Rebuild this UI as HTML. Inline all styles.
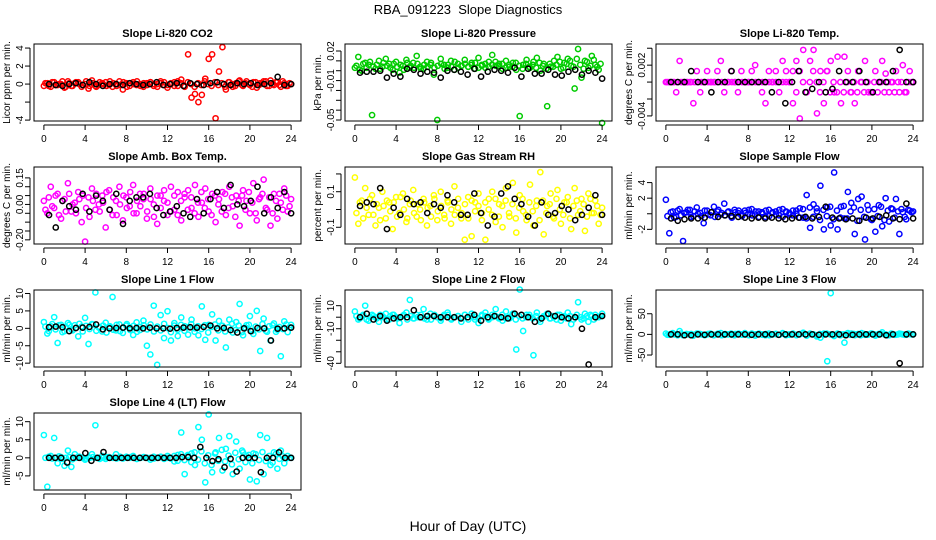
<!DOCTYPE html>
<html><head><meta charset="utf-8"><style>
html,body{margin:0;padding:0;background:#fff}
svg{display:block;font-family:"Liberation Sans",sans-serif}
</style></head><body>
<svg id="chart" width="936" height="540" viewBox="0 0 936 540">
<text x="468" y="14" text-anchor="middle" font-size="13" style="white-space:pre">RBA_091223  Slope Diagnostics</text>
<text x="468" y="531" text-anchor="middle" font-size="14">Hour of Day (UTC)</text>
</svg>
<script>
const hourTicks=[0,4,8,12,16,20,24];
const co2Color=[-0.2,0.1,-0.3,0.2,-0.1,0.0,-0.4,0.3,-0.2,0.1,0.2,-0.3,0.0,-0.5,0.4,-0.2,-0.1,0.1,0.2,-0.1,-0.3,0.0,0.3,-0.6,0.1,-0.2,0.2,-0.1,0.0,-0.3,0.1,0.2,-0.2,0.0,0.3,-0.1,-0.4,0.1,0.2,-0.2,0.5,-0.3,3.3,-1.5,-1.1,-2.0,-1.2,0.6,2.8,3.3,-3.8,1.4,4.1,-0.6,0.2,-0.3,0.1,0.4,-0.2,0.3,-0.1,0.2,-0.4,0.1,0.3,-0.2,0.4,-0.1,0.2,-0.3,0.1,-0.2,0.0];
const co2ColorB=[0.1,-0.2,0.2,-0.1,0.0,0.3,-0.3,0.1,-0.2,0.2,0.0,-0.1,0.3,-0.2,0.1,-0.3,0.2,0.0,-0.2,0.3,0.1,-0.2,-0.1,0.2,-0.3,0.1,0.0,0.3,-0.2,0.1,-0.1,0.2,0.0,-0.3,0.1,0.2,-0.1,0.0,-0.2,0.3,0.1,-0.2,0.2,0.0,-0.3,0.1,-0.1,0.3,0.0,-0.2,0.2,-0.1,0.1,-0.3,0.2,0.0,-0.2,0.3,-0.1,0.1,0.0,-0.3,0.2,-0.1,0.1,0.3,-0.2,0.0,0.2,-0.1,0.3,-0.2,0.1];
const co2Black=[0.0,-0.1,-0.2,0.0,0.1,-0.1,0.2,0.0,-0.2,0.0,0.0,-0.1,0.1,0.0,-0.1,0.0,0.2,-0.1,0.0,0.1,-0.2,0.1,0.0,-0.1,0.1,0.2,0.0,-0.1,0.1,0.0,0.1,-0.1,0.0,0.1,0.8,-0.1,0.0];
const presColor=[0.003,0.014,0.000,0.008,0.006,-0.045,0.002,0.010,0.004,0.012,0.007,0.001,0.009,-0.002,0.005,0.011,0.003,0.008,0.015,0.004,0.002,0.009,0.006,-0.004,-0.050,0.012,0.006,0.003,0.010,0.001,0.007,0.005,0.011,0.004,0.008,0.002,0.013,0.006,0.003,0.009,0.016,0.005,0.007,0.002,0.010,0.004,0.008,0.001,-0.046,0.006,0.011,0.003,0.009,0.013,0.000,0.007,-0.036,0.004,0.010,0.014,0.002,0.008,0.012,0.005,-0.018,0.022,-0.007,0.010,0.003,0.015,0.006,0.001,-0.053];
const presColorB=[0.005,0.001,0.007,0.003,0.009,0.004,0.006,0.002,0.008,0.005,0.003,0.007,0.004,0.006,0.001,0.008,0.005,0.003,0.007,0.002,0.006,0.004,0.008,0.003,0.005,0.007,0.002,0.006,0.004,0.009,0.003,0.005,0.007,0.004,0.006,0.008,0.003,0.005,0.007,0.004,0.006,0.009,0.005,0.007,0.003,0.006,0.004,0.008,0.005,0.002,0.007,0.004,0.006,0.003,0.008,0.005,0.002,0.007,0.004,0.006,0.009,0.003,0.007,0.010,0.004,0.012,0.006,0.002,0.009,0.005,0.011,0.004,0.007];
const presBlack=[-0.002,-0.001,-0.001,0.000,-0.007,-0.003,-0.006,0.002,0.001,-0.003,-0.001,-0.002,-0.007,0.000,0.001,-0.001,-0.004,0.002,-0.006,-0.001,0.001,0.000,-0.002,0.003,-0.006,0.002,-0.003,-0.003,0.001,-0.004,-0.005,-0.001,0.001,-0.004,0.000,-0.002,-0.008];
const tempColor=[0,0,0,-.0012,.0025,0,0,0,-.0025,.0013,-.0012,0,.0013,0,0,.0013,.0025,-.0012,0,.0013,0,-.0012,.0013,0,0,.0013,.0020,0,-.0012,-.0025,.0013,0,.0013,-.0012,.0025,.0013,0,-.0025,.0025,-.0043,.0038,-.0012,.0025,.0038,-.0037,.0013,-.0025,.0013,.0025,-.0012,.0030,-.0025,.0030,.0013,-.0012,-.0025,.0013,0,.0025,-.0012,-.0012,.0013,0,.0025,.0010,-.0012,0,.0013,-.0012,.0020,-.0012,.0013,0];
const tempColorB=[0,0,0,0,0,0,0,0,0,0,0,0,0,0,0,0,0,0,0,0,0,0,0,0,0,0,0,0,0,0,0,0,0,0,0,0,0,.0013,-.0012,.0013,0,-.0012,0,.0013,0,-.0012,0,.0013,-.0012,0,-.0012,0,-.0012,0,-.0012,0,-.0012,0,-.0012,0,-.0012,0,-.0012,0,-.0012,0,0,-.0012,0,0,-.0012,0,0];
const tempBlack=[0,0,0,.0013,0,0,-.0012,0,0,.0013,0,0,0,0,0,-.0012,0,-.0025,0,.0013,-.0012,-.0008,0,-.0012,-.0008,.0013,0,0,.0013,0,-.0012,0,0,.0013,.0038,0,0];
const ambColor=[0.02,-0.05,0.10,-0.02,0.06,-0.08,0.03,0.12,-0.04,0.01,0.07,-0.10,-0.21,0.04,0.09,-0.03,0.00,0.05,-0.13,0.08,-0.06,0.02,0.10,-0.09,0.04,-0.01,0.11,-0.05,0.06,0.03,-0.08,0.09,0.00,-0.11,0.05,0.02,-0.06,0.10,-0.03,0.07,-0.09,0.04,0.08,-0.02,0.11,-0.07,0.01,0.09,-0.04,0.06,-0.10,0.03,0.07,-0.06,0.10,-0.01,0.05,-0.12,0.08,0.02,-0.05,0.12,-0.09,0.04,0.14,-0.03,-0.12,0.06,-0.08,0.01,0.09,-0.04,0.03];
const ambColorB=[-0.03,0.04,-0.01,0.05,-0.06,0.02,-0.04,0.06,0.00,-0.05,0.03,0.05,-0.02,-0.07,0.02,0.06,-0.04,0.01,0.07,-0.03,0.04,-0.06,0.00,0.05,-0.02,0.07,-0.05,0.02,-0.01,0.06,-0.04,0.03,-0.07,0.05,-0.02,0.08,0.01,-0.04,0.05,-0.06,0.02,0.06,-0.03,0.04,-0.05,0.01,0.07,-0.02,0.03,-0.06,0.05,0.00,-0.04,0.06,-0.02,0.04,-0.07,0.02,0.05,-0.03,0.07,0.01,-0.05,0.03,0.06,-0.02,0.04,-0.05,0.02,0.06,-0.03,0.05,-0.01];
const ambBlack=[-0.06,-0.13,0.02,-0.01,-0.03,0.06,-0.04,0.05,0.02,-0.03,0.06,-0.11,0.02,0.04,0.04,0.06,-0.02,-0.06,-0.04,-0.01,-0.05,-0.07,0.03,-0.05,0.03,0.07,-0.02,0.11,0.00,-0.01,0.02,0.10,-0.05,0.04,-0.02,0.07,-0.05];
const rhColor=[0.18,-0.08,0.05,0.12,-0.03,0.08,-0.09,0.01,0.10,-0.05,0.04,-0.11,0.07,-0.02,0.09,-0.07,0.03,0.11,-0.04,0.00,0.06,-0.09,0.02,0.08,-0.06,0.10,-0.03,0.05,-0.08,0.13,0.01,-0.05,-0.17,0.07,-0.15,0.04,0.09,-0.02,-0.17,0.06,0.10,-0.07,0.03,-0.10,0.12,-0.04,0.15,-0.13,0.08,-0.01,-0.06,0.14,-0.09,0.05,0.21,-0.14,0.02,0.09,-0.05,0.11,-0.08,0.04,0.07,-0.11,0.12,-0.03,0.06,-0.12,0.09,-0.02,0.05,-0.08,0.01];
const rhColorB=[-0.02,0.04,-0.05,0.01,0.06,-0.03,0.03,-0.06,0.02,0.05,-0.01,0.04,-0.04,0.07,0.00,-0.05,0.05,-0.02,0.03,-0.06,0.04,0.01,-0.04,0.06,-0.01,0.02,-0.05,0.04,0.00,-0.03,0.06,-0.02,0.03,-0.05,0.05,-0.01,0.02,-0.06,0.04,0.00,-0.03,0.06,-0.04,0.02,0.05,-0.02,0.03,-0.05,0.01,0.06,-0.03,0.04,-0.01,0.02,-0.06,0.05,-0.02,0.03,-0.04,0.06,0.00,-0.03,0.04,-0.05,0.02,0.05,-0.01,0.03,-0.04,0.06,-0.02,0.02,-0.03];
const rhBlack=[0.02,0.04,0.03,0.12,-0.11,0.01,-0.03,0.06,0.03,0.04,-0.02,0.03,0.01,0.08,0.04,-0.03,-0.03,0.09,-0.02,-0.09,-0.04,0.09,0.13,0.06,0.03,-0.04,-0.09,0.04,-0.03,-0.02,0.02,0.00,-0.06,-0.03,0.01,0.08,-0.03];
const sampColor=[1.8,-2.5,0.3,-0.4,0.6,-3.5,0.2,0.5,-0.3,0.8,0.1,-1.2,0.4,-0.2,0.9,0.3,-0.1,1.3,0.2,-0.3,0.5,0.1,-0.2,0.4,0.0,0.6,-0.1,0.3,0.2,-0.4,0.5,0.1,0.3,-0.2,0.6,0.2,-0.1,0.4,0.0,0.7,-0.5,2.4,-1.8,1.2,0.3,3.6,-2.0,0.8,-1.5,5.3,-2.0,0.9,-0.6,2.8,1.4,-2.6,1.9,2.2,-3.3,0.5,-0.8,-2.3,1.1,-1.6,2.0,-1.0,0.6,1.9,-2.6,0.2,-0.7,0.4,0.3];
const sampColorB=[-0.3,0.2,-0.5,0.4,-0.2,0.1,0.5,-0.4,0.3,0.0,-0.3,0.4,-0.1,0.2,-0.4,0.5,0.1,-0.2,0.3,-0.5,0.2,0.4,-0.3,0.1,0.5,-0.2,0.3,-0.4,0.0,0.4,-0.3,0.2,-0.1,0.5,-0.4,0.3,0.1,-0.2,0.4,-0.5,0.6,-0.6,0.8,-0.4,0.7,-0.8,0.5,-0.3,0.9,-0.7,0.4,-0.5,1.0,-0.6,0.3,0.8,-0.9,0.5,-0.4,1.1,-0.7,0.6,-0.3,0.9,-0.8,0.4,0.7,-0.5,0.3,0.6,-0.4,0.5,0.2];
const sampBlack=[-0.6,-0.9,-0.7,-0.6,-0.6,-0.5,0.2,-0.4,-0.2,-0.3,-0.4,-0.5,-0.6,-0.5,-0.6,-0.5,-0.6,-0.7,-0.6,-0.5,-0.4,-0.6,-0.4,0.9,-0.5,-0.6,-0.7,-0.6,-0.9,-0.5,-0.6,-0.4,-0.2,-0.6,-0.7,1.3,-0.6];
const line1Color=[1.8,-1.5,0.6,3.2,-4.2,1.0,-0.8,1.5,-0.3,0.9,-2.3,0.5,3.0,-4.5,1.2,10.3,0.2,-0.9,1.6,0.4,9.0,-0.6,1.1,-1.3,0.8,0.3,-1.9,1.7,-0.5,2.2,-5.0,-7.5,6.5,-10.5,3.8,-2.8,4.9,-3.5,1.5,-2.2,3.1,0.6,-1.8,2.5,0.0,-2.0,6.3,-3.3,1.0,4.0,-3.5,2.1,0.7,-5.5,2.5,-1.2,1.8,7.0,-2.0,0.9,3.5,-1.6,5.0,-6.5,2.8,-1.0,-3.5,1.4,-0.4,-8.0,2.0,-1.1,1.0];
const line1ColorB=[0.5,-0.8,1.2,-0.3,0.9,-1.1,0.4,1.0,-0.6,0.2,1.3,-0.9,0.7,-0.2,1.1,-0.7,0.3,0.8,-1.2,0.6,-0.4,1.0,-0.8,0.2,1.2,-0.5,0.7,-1.0,0.4,0.9,-0.3,1.1,-0.9,0.5,-0.6,1.3,0.1,-1.1,0.8,-0.4,1.0,-0.7,0.3,1.2,-1.0,0.6,-0.2,0.9,-1.2,0.4,1.1,-0.6,0.7,-0.9,0.3,1.3,-0.5,0.8,-1.1,0.2,1.0,-0.8,0.5,-0.3,1.2,-0.7,0.6,0.9,-1.0,0.4,-0.2,1.1,0.3];
const line1Black=[0.3,0.5,0.3,-0.8,0.1,0.2,0.4,1.1,-0.3,0.0,0.1,0.2,0.0,0.1,0.0,0.2,0.0,0.0,-0.1,0.1,0.2,0.3,0.2,0.4,0.8,0.0,0.1,-0.5,-1.2,0.0,-0.8,0.1,0.0,-3.5,-0.1,0.0,0.2];
const line2Color=[5,-2,1,10,-3,2,0,-4,1,3,-2,2,0,-5,1,4,15,-1,2,0,7,-2,3,1,0,-3,2,4,-1,0,1,-4,2,0,3,-2,-5,1,4,-1,2,7,0,-3,5,-1,3,-28,24,-12,2,0,-33,4,-4,1,3,-1,0,2,-3,1,4,-6,0,13,-2,3,-4,1,2,0,3];
const line2ColorB=[1,-1,2,-2,0,1,-1,2,0,-2,1,2,-1,0,2,-2,1,-1,0,2,-1,1,-2,2,0,-1,1,2,-2,0,1,-1,2,-2,1,0,-1,2,1,-2,0,1,-1,2,-1,0,2,-2,1,-1,0,2,-1,1,-2,0,2,-1,1,-2,2,0,-1,1,-2,2,0,-1,1,2,-2,0,1];
const line2Black=[0,3,-2,1,-3,-1,0,0,6,0,1,1,0,0,0,-1,0,2,-3,0,1,0,-1,3,2,0,-4,-1,3,1,0,-1,0,-10,-41,0,1];
const line3Color=[2,-1,3,0,8,-2,1,0,-3,2,1,-1,0,2,-2,1,3,-1,0,2,-2,1,0,3,-1,2,-3,1,0,-2,2,0,1,-1,3,-2,0,2,-1,1,4,-3,2,0,-5,-8,2,-65,100,-4,2,0,-20,3,2,-2,1,3,-1,0,2,-3,1,5,0,-2,1,-1,2,0,-1,1,0];
const line3ColorB=[-1,1,0,-2,2,-1,0,1,-1,2,0,-2,1,0,-1,2,-2,1,0,-1,1,2,-1,0,-2,1,0,2,-1,1,-2,0,1,-1,2,0,-1,1,-2,0,2,-1,1,0,-2,1,-1,2,0,-1,1,-2,0,2,-1,1,0,-2,1,-1,2,0,-1,1,0,-2,2,-1,0,1,-1,2,0];
const line3Black=[0,0,-2,-2,0,-1,0,0,0,0,0,0,-1,0,0,0,-1,0,0,0,0,0,-1,0,0,0,-2,-1,0,0,0,0,-2,0,-70,0,0];
const line4Color=[6.3,-8.0,0.5,5.5,-1.5,0.2,-2.2,2.0,-2.5,1.0,0.3,0.0,-0.5,0.2,1.0,9.0,0.0,0.5,-0.3,0.2,0.0,1.0,0.0,-0.2,0.3,0.0,0.5,-0.3,0.0,0.2,0.0,-0.5,0.3,0.0,0.2,-0.3,0.5,0.0,-1.0,0.8,7.0,-4.5,0.5,1.2,-2.0,8.5,5.0,-6.8,12.0,-4.0,1.5,5.5,-3.5,2.5,6.0,-4.5,4.5,-3.0,1.5,0.5,-6.0,1.2,-6.5,6.3,-4.5,5.5,-2.0,1.5,-3.0,2.0,-1.5,0.5,0.0];
const line4ColorB=[0,0.3,-0.2,0,0.4,-0.3,0,0.2,-0.4,0,0.3,0,-0.2,0,0.2,0,-0.3,0,0.2,0,0,-0.2,0.3,0,0,0.2,0,-0.3,0,0.2,0,0,-0.2,0,0.3,0,0,-0.2,0.5,-0.8,1.0,-0.6,0.8,-1.2,1.5,-0.5,1.8,-1.5,0.7,-2.0,1.2,-0.8,2.2,-1.0,0.6,-1.8,1.4,-0.4,2.0,-1.2,0.8,-1.5,1.0,-0.6,1.6,-0.9,0.5,-1.3,1.1,-0.3,0.4,-0.2,0];
const line4Black=[0,0,0,-1.3,0,0,1.3,-0.8,0,1.6,0,0,0,0,0,0,0,0,0,0,0,0,0.2,0.2,0,3.0,0,-0.9,-0.4,-2.6,-0.3,-3.8,0,0,0,-4.0,0,0,1.5,0,0];

const NS='http://www.w3.org/2000/svg';
const svg=document.getElementById('chart');
const cols=[[34,301],[345,612],[656,923]];
const rows=[[44,121],[167,244],[290,367],[413,490]];
const panels=[
 {key:'co2',title:'Slope Li-820 CO2',ylab:'Licor ppm per min.',c:0,r:0,dom:[-4.1,4.45],ticks:[-4,-2,0,2,4],labs:{'-4':'-4','0':'0','2':'2','4':'4'},color:'#ff0000',col:co2Color,colB:co2ColorB,blk:co2Black},
 {key:'pressure',title:'Slope Li-820 Pressure',ylab:'kPa per min.',c:1,r:0,dom:[-0.051,0.0271],ticks:[-0.05,-0.04,-0.03,-0.02,-0.01,0,0.01,0.02],labs:{'-0.05':'-0.05','-0.01':'-0.01','0.02':'0.02'},color:'#00cc00',col:presColor,colB:presColorB,blk:presBlack},
 {key:'temp',title:'Slope Li-820 Temp.',ylab:'degrees C per min.',c:2,r:0,dom:[-0.0046,0.0045],ticks:[-0.004,-0.002,0,0.002,0.004],labs:{'-0.004':'-0.004','0.002':'0.002'},color:'#ff00ff',col:tempColor,colB:tempColorB,blk:tempBlack},
 {key:'amb-box',title:'Slope Amb. Box Temp.',ylab:'degrees C per min.',c:0,r:1,dom:[-0.2235,0.2115],ticks:[-0.2,-0.15,-0.1,-0.05,0,0.05,0.1,0.15],labs:{'-0.2':'-0.20','0':'0.00','0.15':'0.15'},color:'#ff00ff',col:ambColor,colB:ambColorB,blk:ambBlack},
 {key:'rh',title:'Slope Gas Stream RH',ylab:'percent per min.',c:1,r:1,dom:[-0.194,0.239],ticks:[-0.1,0,0.1,0.2],labs:{'-0.1':'-0.1','0.1':'0.1'},color:'#ffff00',col:rhColor,colB:rhColorB,blk:rhBlack},
 {key:'sample-flow',title:'Slope Sample Flow',ylab:'ml/min per min.',c:2,r:1,dom:[-3.88,6.0],ticks:[-2,0,2,4],labs:{'-2':'-2','2':'2','4':'4'},color:'#0000ff',col:sampColor,colB:sampColorB,blk:sampBlack},
 {key:'line1',title:'Slope Line 1 Flow',ylab:'ml/min per min.',c:0,r:2,dom:[-11.1,11.0],ticks:[-10,-5,0,5,10],labs:{'-10':'-10','-5':'-5','0':'0','5':'5','10':'10'},color:'#00ffff',col:line1Color,colB:line1ColorB,blk:line1Black},
 {key:'line2',title:'Slope Line 2 Flow',ylab:'ml/min per min.',c:1,r:2,dom:[-43.2,23.6],ticks:[-40,-30,-20,-10,0,10],labs:{'-40':'-40','-10':'-10','10':'10'},color:'#00ffff',col:line2Color,colB:line2ColorB,blk:line2Black},
 {key:'line3',title:'Slope Line 3 Flow',ylab:'ml/min per min.',c:2,r:2,dom:[-79,107.5],ticks:[-50,0,50],labs:{'-50':'-50','0':'0','50':'50'},color:'#00ffff',col:line3Color,colB:line3ColorB,blk:line3Black},
 {key:'line4',title:'Slope Line 4 (LT) Flow',ylab:'ml/min per min.',c:0,r:3,dom:[-8.9,12.4],ticks:[-5,0,5,10],labs:{'-5':'-5','0':'0','5':'5','10':'10'},color:'#00ffff',col:line4Color,colB:line4ColorB,blk:line4Black}
];
function mk(tag,attrs,parent){const e=document.createElementNS(NS,tag);for(const k in attrs)e.setAttribute(k,attrs[k]);(parent||svg).appendChild(e);return e;}
panels.forEach(p=>{
 const [x0,x1]=cols[p.c],[y0,y1]=rows[p.r];
 const xs=t=>x0+(t+0.96)/25.92*(x1-x0);
 const ys=v=>y1-(v-p.dom[0])/(p.dom[1]-p.dom[0])*(y1-y0);
 const g=mk('g',{});
 
 
 const tt=mk('text',{x:(x0+x1)/2,y:y0-7,'text-anchor':'middle','font-size':11,'font-weight':'bold'},g);
 tt.textContent=p.title;
 
 
 const yl=mk('text',{transform:`translate(${x0-24},${(y0+y1)/2}) rotate(-90)`,'text-anchor':'middle','font-size':10},g);
 yl.textContent=p.ylab;
 
 
 const pts=mk('g',{fill:'none','stroke-width':1.5},g);
 
 
 const nc=p.col.length;
 p.col.forEach((v,i)=>{const c=mk('circle',{cx:xs(i*24/(nc-1)),cy:ys(v),r:2.6,stroke:p.color},pts);
  
  });
 const nB=p.colB.length;
 p.colB.forEach((v,i)=>{const c=mk('circle',{cx:xs(0.15+i*23.7/(nB-1)),cy:ys(v),r:2.6,stroke:p.color},pts);
  
  });
 const nb=p.blk.length;
 p.blk.forEach((v,i)=>{const c=mk('circle',{cx:xs(0.5+i*23.5/(nb-1)),cy:ys(v),r:2.6,stroke:'#000'},pts);
  
  });
 const box=mk('rect',{x:x0,y:y0,width:x1-x0,height:y1-y0,fill:'none',stroke:'#000','stroke-width':1},g);
 
 
 const xa=mk('g',{},g);
 
 
 mk('line',{x1:xs(0),x2:xs(24),y1:y1+4,y2:y1+4,stroke:'#000'},xa);
 hourTicks.forEach(t=>{mk('line',{x1:xs(t),x2:xs(t),y1:y1+4,y2:y1+9,stroke:'#000'},xa);
  const l=mk('text',{x:xs(t),y:y1+21,'text-anchor':'middle','font-size':10},xa);l.textContent=t;});
 const ya=mk('g',{},g);
 
 
 const tmin=p.ticks[0],tmax=p.ticks[p.ticks.length-1];
 mk('line',{x1:x0-4,x2:x0-4,y1:ys(tmin),y2:ys(tmax),stroke:'#000'},ya);
 p.ticks.forEach(v=>{mk('line',{x1:x0-4,x2:x0-9,y1:ys(v),y2:ys(v),stroke:'#000'},ya);
  const s=p.labs[String(v)];
  if(s!==undefined){const l=mk('text',{transform:`translate(${x0-11},${ys(v)}) rotate(-90)`,'text-anchor':'middle','font-size':10},ya);l.textContent=s;}});
});
</script>
</body></html>
